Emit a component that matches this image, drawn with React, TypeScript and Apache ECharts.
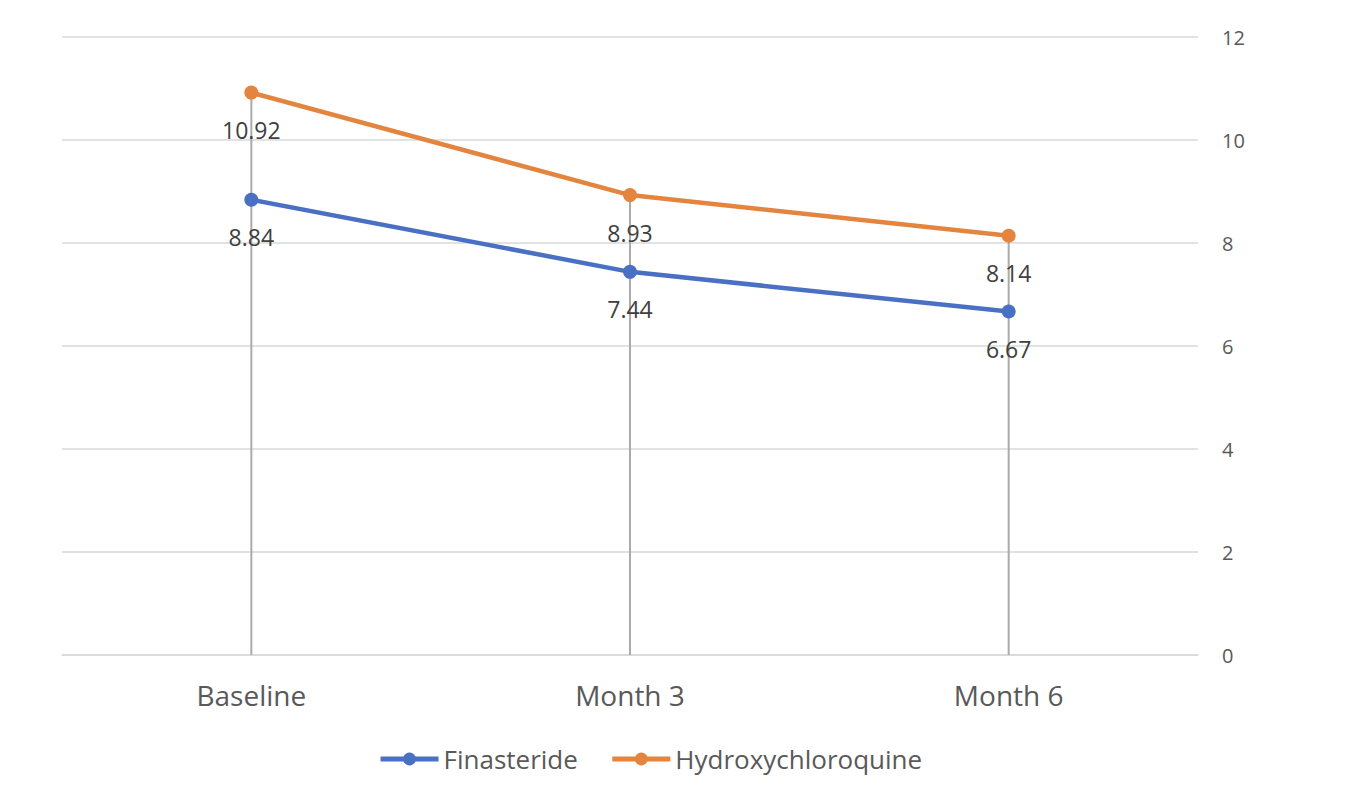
import React, { useEffect, useRef } from "react";
import * as echarts from "echarts";

const categories = ["Baseline", "Month 3", "Month 6"];
const finasteride = [8.84, 7.44, 6.67];
const hydroxychloroquine = [10.92, 8.93, 8.14];
const yTicks = { min: 0, max: 12, interval: 2 };

export default function App() {
  const ref = useRef<HTMLDivElement>(null);
  useEffect(() => {
    if (!ref.current) return;
    const chart = echarts.init(ref.current, null, { renderer: "svg" });
    const font = "'Open Sans', 'Liberation Sans', sans-serif";
    const dropValues = categories.map((_, i) => Math.max(finasteride[i], hydroxychloroquine[i]));
    const labelCfg = {
      show: true,
      position: "bottom",
      distance: 19,
      color: "#404040",
      fontSize: 23,
      fontFamily: font,
      formatter: (p: any) => p.value.toFixed(2),
    };
    chart.setOption({
      animation: false,
      grid: { left: 54, right: 148, top: 29, bottom: 127 },
      legend: {
        data: ["Finasteride", "Hydroxychloroquine"],
        top: 733,
        left: 365,
        itemWidth: 58,
        itemHeight: 16,
        itemGap: 32,
        lineStyle: { width: 5 },
        textStyle: { color: "#595959", fontSize: 26, fontFamily: font },
      },
      xAxis: {
        type: "category",
        data: categories,
        boundaryGap: true,
        axisLine: { show: true, lineStyle: { color: "#d9d9d9", width: 1.5 } },
        axisTick: { show: false },
        axisLabel: { color: "#595959", fontSize: 28, fontFamily: font, margin: 26 },
      },
      yAxis: {
        type: "value",
        position: "right",
        min: yTicks.min,
        max: yTicks.max,
        interval: yTicks.interval,
        axisLine: { show: false },
        axisTick: { show: false },
        splitLine: { lineStyle: { color: "#d9d9d9", width: 1.5 } },
        axisLabel: { color: "#595959", fontSize: 20, fontFamily: font, margin: 24 },
      },
      series: [
        {
          name: "drop",
          type: "bar",
          data: dropValues,
          barWidth: 2,
          itemStyle: { color: "#ababab" },
          silent: true,
          z: 1,
        },
        {
          name: "Finasteride",
          type: "line",
          data: finasteride,
          symbol: "circle",
          symbolSize: 14,
          lineStyle: { color: "#4a70c4", width: 4.5 },
          itemStyle: { color: "#4a70c4" },
          label: labelCfg,
          z: 3,
        },
        {
          name: "Hydroxychloroquine",
          type: "line",
          data: hydroxychloroquine,
          symbol: "circle",
          symbolSize: 14,
          lineStyle: { color: "#e3843f", width: 4.5 },
          itemStyle: { color: "#e3843f" },
          label: labelCfg,
          z: 3,
        },
      ],
    });
    return () => chart.dispose();
  }, []);
  return <div ref={ref} style={{ width: 1338, height: 774 }} />;
}
